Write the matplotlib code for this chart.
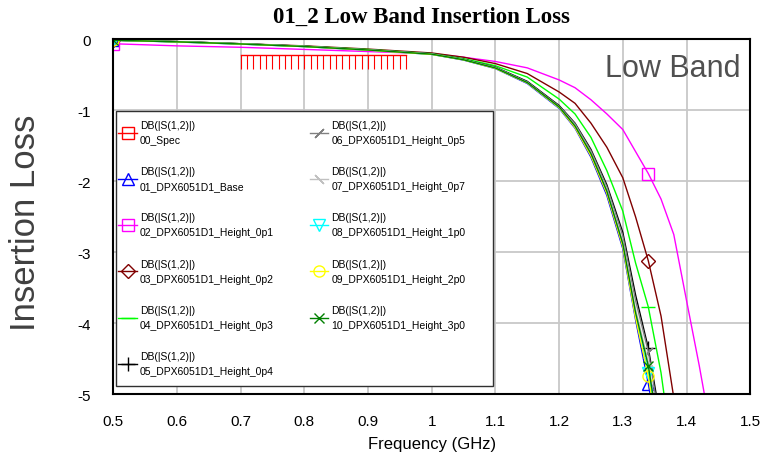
import numpy as np
import matplotlib
matplotlib.use('Agg')
import matplotlib.pyplot as plt
from matplotlib import patches

matplotlib.rcParams['font.family'] = ['Liberation Sans', 'DejaVu Sans']
matplotlib.rcParams['axes.unicode_minus'] = False

# frequency points (GHz)
freq = [0.5, 0.6, 0.7, 0.8, 0.9, 1.0, 1.05, 1.1, 1.15, 1.2, 1.225, 1.25, 1.275,
        1.3, 1.32, 1.34, 1.36, 1.38, 1.4, 1.42, 1.44]

# insertion loss (dB) for each trace
base = [-0.01, -0.035, -0.065, -0.10, -0.15, -0.21, -0.29, -0.41, -0.62, -0.97, -1.25, -1.66, -2.2,
        -2.95, -3.95, -4.85, -5.9, -7.0, -8.0, -9.0, -10.0]
h0p1 = [-0.06, -0.09, -0.11, -0.14, -0.17, -0.2, -0.25, -0.31, -0.4, -0.57, -0.68, -0.85, -1.05,
        -1.27, -1.58, -1.89, -2.25, -2.75, -3.68, -4.6, -5.6]
h0p2 = [-0.01, -0.03, -0.06, -0.09, -0.135, -0.19, -0.25, -0.34, -0.48, -0.74, -0.9, -1.18, -1.52,
        -1.95, -2.5, -3.12, -3.9, -5.05, -6.2, -7.5, -8.5]
h0p3 = [-0.01, -0.03, -0.06, -0.095, -0.14, -0.2, -0.27, -0.37, -0.53, -0.84, -1.05, -1.38, -1.85,
        -2.42, -3.15, -3.77, -4.7, -6.0, -7.0, -8.0, -9.0]
h0p4 = [-0.01, -0.03, -0.06, -0.095, -0.145, -0.2, -0.28, -0.39, -0.59, -0.93, -1.18, -1.55, -2.05,
        -2.72, -3.6, -4.35, -5.4, -6.5, -7.5, -8.5, -9.5]
h0p5 = [-0.01, -0.03, -0.06, -0.096, -0.146, -0.202, -0.282, -0.395, -0.6, -0.94, -1.19, -1.57, -2.08,
        -2.77, -3.68, -4.4, -5.5, -6.6, -7.6, -8.6, -9.6]
h0p7 = [-0.01, -0.032, -0.062, -0.098, -0.147, -0.205, -0.285, -0.4, -0.605, -0.95, -1.21, -1.6, -2.12,
        -2.85, -3.8, -4.55, -5.7, -6.8, -7.8, -8.8, -9.8]
h1p0 = [-0.01, -0.034, -0.064, -0.10, -0.15, -0.21, -0.285, -0.405, -0.61, -0.96, -1.23, -1.63, -2.15,
        -2.9, -3.9, -4.7, -5.8, -6.9, -7.9, -8.9, -9.9]
h2p0 = [-0.01, -0.034, -0.064, -0.10, -0.15, -0.21, -0.287, -0.407, -0.612, -0.96, -1.24, -1.64, -2.17,
        -2.92, -3.92, -4.75, -5.85, -6.9, -7.9, -8.9, -9.9]
h3p0 = [-0.01, -0.033, -0.063, -0.099, -0.148, -0.207, -0.286, -0.402, -0.607, -0.95, -1.22, -1.61, -2.14,
        -2.88, -3.85, -4.6, -5.75, -6.8, -7.8, -8.8, -9.8]

# spec mask
spec_freq = [0.7, 0.96]
spec_level = -0.22

names = ['01_DPX6051D1_Base', '02_DPX6051D1_Height_0p1', '03_DPX6051D1_Height_0p2',
         '04_DPX6051D1_Height_0p3', '05_DPX6051D1_Height_0p4', '06_DPX6051D1_Height_0p5',
         '07_DPX6051D1_Height_0p7', '08_DPX6051D1_Height_1p0', '09_DPX6051D1_Height_2p0',
         '10_DPX6051D1_Height_3p0']
traces = [base, h0p1, h0p2, h0p3, h0p4, h0p5, h0p7, h1p0, h2p0, h3p0]
colors = ['#0000FF', '#FF00FF', '#800000', '#00FF00', '#000000', '#808080',
          '#C0C0C0', '#00FFFF', '#FFFF00', '#008000']
markers = ['^', 's', 'D', '_', '+', (2, 2, -45), (2, 2, 45), 'v', 'o', 'x']
msizes = [8, 8, 7, 10, 10, 9, 9, 8, 8, 7]

fig = plt.figure(figsize=(7.64, 4.6), dpi=100)
ax = fig.add_axes([0.148, 0.141, 0.834, 0.771])

handles = []
# spec
ax.plot(spec_freq, [spec_level, spec_level], color='#FF0000', lw=1)
ax.vlines(np.arange(spec_freq[0], spec_freq[1] + 0.001, 0.01), spec_level - 0.2, spec_level,
          color='#FF0000', lw=0.8)
handles.append(ax.plot([], [], color='#FF0000', lw=1, marker='s', ms=8, mfc='none',
                       label='DB(|S(1,2)|)\n00_Spec')[0])

for y, c, m, s, n in zip(traces, colors, markers, msizes, names):
    h, = ax.plot(freq, y, color=c, lw=1, marker=m, ms=s, mfc='none', mec=c, mew=1,
                 markevery=[0, 15], label='DB(|S(1,2)|)\n' + n)
    handles.append(h)

ax.set_xlim(0.5, 1.5)
ax.set_ylim(-5, 0)
ax.set_xticks(np.arange(0.5, 1.51, 0.1))
ax.set_xticklabels(['0.5', '0.6', '0.7', '0.8', '0.9', '1', '1.1', '1.2', '1.3', '1.4', '1.5'])
ax.set_yticks([0, -1, -2, -3, -4, -5])
ax.tick_params(length=0, labelsize=11, pad=14)
ax.tick_params(axis='y', pad=16)
ax.grid(color='#C8C8C8', lw=1.3)
ax.set_axisbelow(True)
for sp in ax.spines.values():
    sp.set_linewidth(1.5)

ax.set_xlabel('Frequency (GHz)', fontsize=12)
ax.xaxis.set_label_coords(0.5, -0.118)
ax.set_ylabel('Insertion Loss', fontsize=25, color='#404040')
ax.yaxis.set_label_coords(-0.111, 0.485)
fig.text(0.551, 0.963, '01_2 Low Band Insertion Loss', ha='center', va='center',
         fontsize=16.5, fontweight='bold', family='Liberation Serif')
ax.text(0.985, 0.92, 'Low Band', transform=ax.transAxes, ha='right', va='center',
        fontsize=22, color='#505050')

# legend box with shadow
box = patches.Rectangle((0.0047, 0.0226), 0.5918, 0.7754, transform=ax.transAxes,
                        facecolor='white', edgecolor='#303030', lw=1, zorder=4.5)
ax.add_patch(box)
shadow = patches.Shadow(box, 2.5, -2.5)
shadow.set_facecolor('#808080')
shadow.set_edgecolor('#808080')
shadow.set_alpha(1)
shadow.set_zorder(4.4)
ax.add_patch(shadow)

leg = ax.legend(handles=handles, loc='upper left', bbox_to_anchor=(0.0047, 0.779),
                ncol=2, fontsize=7.5, handlelength=1.8, handletextpad=0.3,
                labelspacing=2.06, borderpad=0.2, borderaxespad=0, columnspacing=3.4,
                frameon=False)
leg.set_zorder(5)
for t in leg.get_texts():
    t.set_linespacing(1.6)

plt.savefig('out.png', dpi=100)
